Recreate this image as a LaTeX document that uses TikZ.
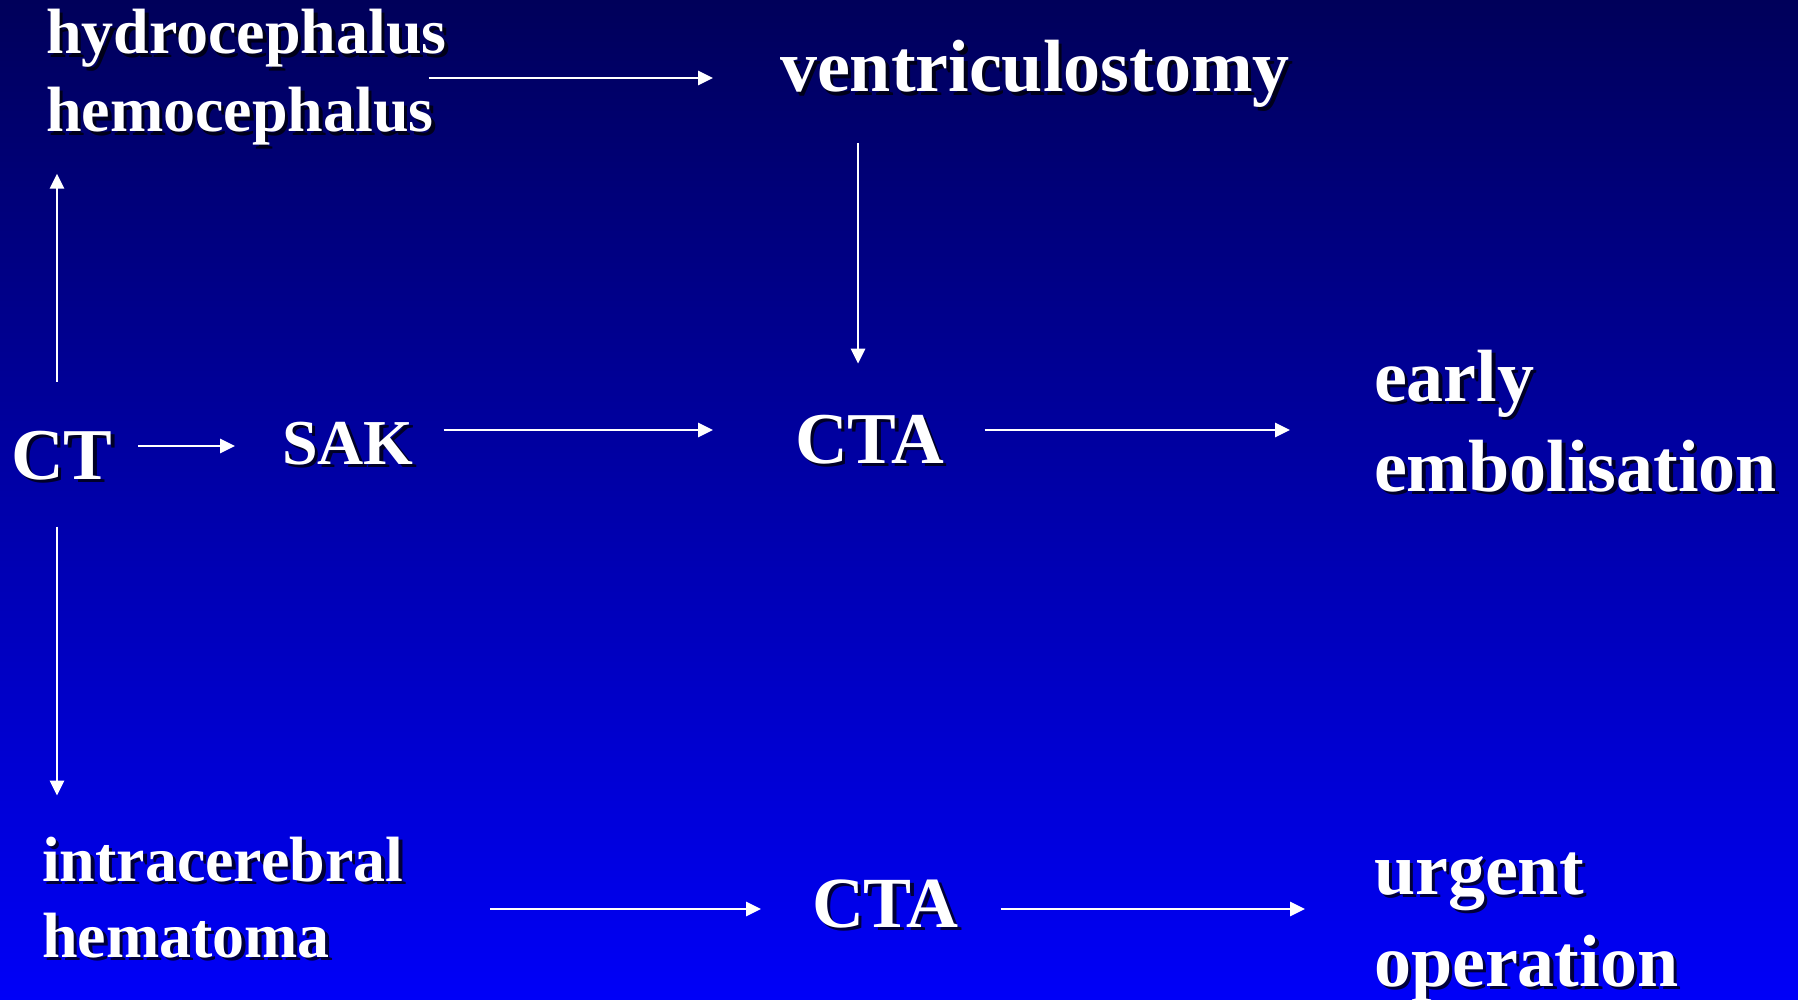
\documentclass[tikz,border=0pt]{standalone}
\usepackage{fontspec}
\setmainfont{Liberation Serif}
\usetikzlibrary{arrows.meta,calc}
\definecolor{bgtop}{RGB}{0,0,90}
\definecolor{bgmid}{RGB}{0,0,198}
\definecolor{bgbot}{RGB}{0,0,248}
\tikzset{
  txt/.style={anchor=base west, inner sep=0pt, outer sep=0pt, font=\bfseries, text=white},
  txtsh/.style={txt, text=black, opacity=0.75, xshift=3.5pt, yshift=-3.5pt},
  arr/.style={draw=white, line width=2.8pt, -{Triangle[length=15pt,width=14pt]}}
}
\newcommand\txtnode[5]{%
  \node[txtsh] (#1-sh) at (#2,#3) {\fontsize{#4}{#4}\selectfont #5};
  \node[txt] (#1) at (#2,#3) {\fontsize{#4}{#4}\selectfont #5};}
\begin{document}
\begin{tikzpicture}[x=1pt,y=-1pt]
\useasboundingbox (0,0) rectangle (1798,1000);
\shade[top color=bgtop, middle color=bgmid, bottom color=bgbot] (0,0) rectangle (1798,1000);

\txtnode{hydro}{46}{54}{64}{hydrocephalus}
\txtnode{hemo}{46}{132}{64}{hemocephalus}
\txtnode{ventr}{780}{92}{74}{ventriculostomy}
\txtnode{ct}{11}{479}{73}{CT}
\txtnode{sak}{282}{464}{64}{SAK}
\txtnode{ctaa}{795}{463}{73}{CTA}
\txtnode{early}{1374}{401}{74}{early}
\txtnode{embol}{1374}{491}{74}{embolisation}
\txtnode{intra}{42}{881}{64}{intracerebral}
\txtnode{hema}{42}{957}{64}{hematoma}
\txtnode{ctab}{812}{927}{72}{CTA}
\txtnode{urgent}{1374}{894}{74}{urgent}
\txtnode{oper}{1374}{986}{74}{operation}

% connectors
\draw[arr, shorten <=-5pt, shorten >=67pt] (hemo.east |- 0,78) -- (ventr.west |- 0,78);
\draw[arr, shorten <=35pt, shorten >=51pt] (858,0 |- ventr.south) -- (858,0 |- ctaa.north);
\draw[arr, shorten <=49pt, shorten >=28pt] (57,0 |- ct.north) -- (57,0 |- hemo.south);
\draw[arr, shorten <=47pt, shorten >=41pt] (57,0 |- ct.south) -- (57,0 |- intra.north);
\draw[arr, shorten <=26pt, shorten >=47pt] (ct.east |- 0,446) -- (sak.west |- 0,446);
\draw[arr, shorten <=30pt, shorten >=82pt] (sak.east |- 0,430) -- (ctaa.west |- 0,430);
\draw[arr, shorten <=41pt, shorten >=84pt] (ctaa.east |- 0,430) -- (early.west |- 0,430);
\draw[arr, shorten <=87pt, shorten >=51pt] (intra.east |- 0,909) -- (ctab.west |- 0,909);
\draw[arr, shorten <=42pt, shorten >=69pt] (ctab.east |- 0,909) -- (urgent.west |- 0,909);
\end{tikzpicture}
\end{document}
